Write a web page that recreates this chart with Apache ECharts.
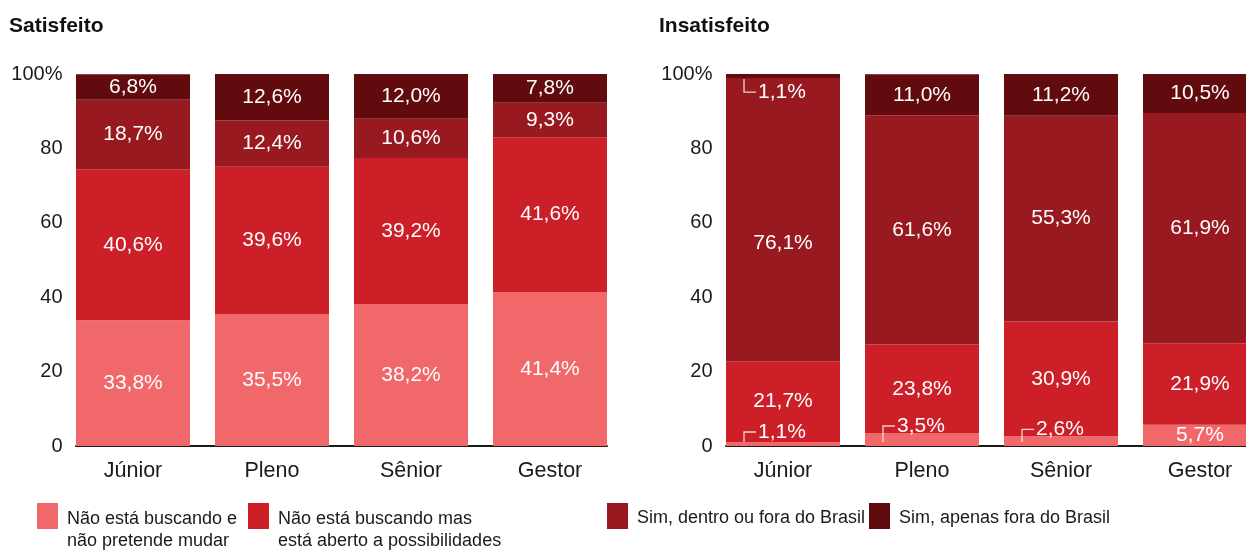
<!DOCTYPE html>
<html lang="pt">
<head>
<meta charset="UTF-8">
<title>Satisfeito x Insatisfeito</title>
<script src="https://cdn.jsdelivr.net/npm/echarts@6/dist/echarts.min.js"></script>
<style>
  html, body { margin: 0; padding: 0; background: #fff; }
  #main { width: 1246px; height: 554px; }
</style>
</head>
<body>
<div id="main"></div>
<script type="text/javascript">
// categorias e ticks
var categorias = ['Júnior', 'Pleno', 'Sênior', 'Gestor'];
var ticksY = [0, 20, 40, 60, 80, 100];

// nomes das séries (legenda)
var nomes = [
    'Não está buscando e não pretende mudar',
    'Não está buscando mas está aberto a possibilidades',
    'Sim, dentro ou fora do Brasil',
    'Sim, apenas fora do Brasil'
];

// Satisfeito
var satNaoBusca = [33.8, 35.5, 38.2, 41.4];
var satAberto   = [40.6, 39.6, 39.2, 41.6];
var satDentro   = [18.7, 12.4, 10.6, 9.3];
var satFora     = [6.8, 12.6, 12.0, 7.8];

// Insatisfeito
var insNaoBusca = [1.1, 3.5, 2.6, 5.7];
var insAberto   = [21.7, 23.8, 30.9, 21.9];
var insDentro   = [76.1, 61.6, 55.3, 61.9];
var insFora     = [1.1, 11.0, 11.2, 10.5];

var cores = ['#F1686B', '#CC1F27', '#981A20', '#610B0E'];
var fonte = '"Liberation Sans", Arial, sans-serif';
var PEQUENO = 4; // abaixo disso o rótulo vai para fora do segmento

function fmt(v) {
    return v.toFixed(1).replace('.', ',') + '%';
}

var myChart = echarts.init(document.getElementById('main'));

function serieBarra(nome, dados, cor, eixo, pilha, esconderPequenos) {
    return {
        name: nome,
        type: 'bar',
        stack: pilha,
        xAxisIndex: eixo,
        yAxisIndex: eixo,
        barWidth: 114,
        data: dados,
        itemStyle: { color: cor },
        label: {
            show: true,
            position: 'inside',
            color: '#fff',
            fontFamily: fonte,
            fontSize: 21,
            formatter: function (p) {
                if (esconderPequenos && p.value < PEQUENO) return '';
                return fmt(p.value);
            }
        },
        emphasis: { disabled: true }
    };
}

// rótulos com "colchete" para segmentos muito finos (gráfico Insatisfeito)
var pequenos = [];
for (var i = 0; i < categorias.length; i++) {
    if (insNaoBusca[i] < PEQUENO) {
        pequenos.push([i, 0, insNaoBusca[i], 1]);
    }
    if (insFora[i] < PEQUENO) {
        var base = insNaoBusca[i] + insAberto[i] + insDentro[i];
        pequenos.push([i, base, insFora[i], -1]);
    }
}

function desenhaPequeno(params, api) {
    var cat = api.value(0);
    var base = api.value(1);
    var valor = api.value(2);
    var dir = api.value(3);
    var pBase = api.coord([cat, base]);
    var pTopo = api.coord([cat, base + valor]);
    var x = pBase[0] - 57 + 18;
    var y1, y2;
    if (dir > 0) {
        y1 = pBase[1] - 4;
        y2 = Math.min(pTopo[1] - 7, y1 - 10);
    } else {
        y1 = pBase[1] + 1;
        y2 = pBase[1] + 14;
    }
    var cor = 'rgba(255,255,255,0.8)';
    return {
        type: 'group',
        children: [
            {
                type: 'polyline',
                shape: { points: [[x, y1], [x, y2], [x + 12, y2]] },
                style: { stroke: cor, lineWidth: 1.3, fill: null }
            },
            {
                type: 'text',
                x: x + 14,
                y: y2,
                style: {
                    text: fmt(valor),
                    fill: '#fff',
                    font: '21px ' + fonte,
                    verticalAlign: 'middle',
                    align: 'left'
                }
            }
        ]
    };
}

var eixoYBase = {
    type: 'value',
    min: 0,
    max: 100,
    interval: 20,
    axisLine: { show: false },
    axisTick: { show: false },
    splitLine: { show: false },
    axisLabel: {
        margin: 1,
        color: '#1a1a1a',
        fontFamily: fonte,
        fontSize: 20,
        padding: [0, 0, 12, 0],
        formatter: function (v) { return v === 100 ? '100%' : String(v); }
    }
};

var eixoXBase = {
    type: 'category',
    data: categorias,
    axisLine: { show: false },
    axisTick: { show: false },
    axisLabel: {
        margin: 14,
        color: '#1a1a1a',
        fontFamily: fonte,
        fontSize: 21.5
    }
};

// linhas de base (só sob as barras)
var eixoLinha = {
    type: 'value',
    min: 0,
    max: 1,
    axisLine: { show: true, lineStyle: { color: '#1a1a1a', width: 2 } },
    axisTick: { show: false },
    axisLabel: { show: false },
    splitLine: { show: false }
};
var eixoLinhaY = {
    type: 'value', min: 0, max: 1, show: false
};

var legendaPos = [37, 248, 607, 869];
var legendaLinhas = {};
legendaLinhas[nomes[0]] = ['Não está buscando e', 'não pretende mudar'];
legendaLinhas[nomes[1]] = ['Não está buscando mas', 'está aberto a possibilidades'];
legendaLinhas[nomes[2]] = [nomes[2]];
legendaLinhas[nomes[3]] = [nomes[3]];

var legendas = [];
for (var k = 0; k < nomes.length; k++) {
    var duasLinhas = legendaLinhas[nomes[k]].length > 1;
    legendas.push({
        data: [nomes[k]],
        left: legendaPos[k],
        top: duasLinhas ? 485 : 503,
        padding: 0,
        icon: 'rect',
        itemWidth: 21,
        itemHeight: 26,
        selectedMode: false,
        formatter: function (n) {
            var l = legendaLinhas[n];
            if (l.length === 1) return '{u|' + l[0] + '}';
            return '{e| }\n{t|' + l[0] + '}\n{t|' + l[1] + '}';
        },
        textStyle: {
            color: '#1a1a1a',
            fontFamily: fonte,
            fontSize: 18,
            rich: {
                e: { lineHeight: 28, fontSize: 18, padding: [0, 0, 0, 4] },
                t: { lineHeight: 22, fontSize: 18, fontFamily: fonte, color: '#1a1a1a', padding: [0, 0, 0, 4] },
                u: { lineHeight: 22, fontSize: 18, fontFamily: fonte, color: '#1a1a1a', padding: [4, 0, 0, 4] }
            }
        }
    });
}

var option = {
    animation: false,
    backgroundColor: '#fff',
    title: [
        {
            text: 'Satisfeito', left: 9, top: 16, padding: 0,
            textStyle: { fontFamily: fonte, fontSize: 21, fontWeight: 'bold', color: '#111' }
        },
        {
            text: 'Insatisfeito', left: 659, top: 16, padding: 0,
            textStyle: { fontFamily: fonte, fontSize: 21, fontWeight: 'bold', color: '#111' }
        }
    ],
    legend: legendas,
    grid: [
        { left: 63.5, top: 74, width: 556, height: 372, outerBoundsMode: 'none' },
        { left: 713.5, top: 74, width: 556, height: 372, outerBoundsMode: 'none' },
        { left: 76, top: 74, width: 531, height: 372, outerBoundsMode: 'none' },
        { left: 726, top: 74, width: 531, height: 372, outerBoundsMode: 'none' }
    ],
    xAxis: [
        Object.assign({ gridIndex: 0 }, eixoXBase),
        Object.assign({ gridIndex: 1 }, eixoXBase),
        Object.assign({ gridIndex: 2 }, eixoLinha),
        Object.assign({ gridIndex: 3 }, eixoLinha)
    ],
    yAxis: [
        Object.assign({ gridIndex: 0 }, eixoYBase),
        Object.assign({ gridIndex: 1 }, eixoYBase),
        Object.assign({ gridIndex: 2 }, eixoLinhaY),
        Object.assign({ gridIndex: 3 }, eixoLinhaY)
    ],
    series: [
        serieBarra(nomes[0], satNaoBusca, cores[0], 0, 'sat', false),
        serieBarra(nomes[1], satAberto, cores[1], 0, 'sat', false),
        serieBarra(nomes[2], satDentro, cores[2], 0, 'sat', false),
        serieBarra(nomes[3], satFora, cores[3], 0, 'sat', false),
        serieBarra(nomes[0], insNaoBusca, cores[0], 1, 'ins', true),
        serieBarra(nomes[1], insAberto, cores[1], 1, 'ins', true),
        serieBarra(nomes[2], insDentro.map(function (v, i) {
            // rótulo do Júnior fica um pouco abaixo do centro no original
            return i === 0 ? { value: v, label: { offset: [0, 24] } } : v;
        }), cores[2], 1, 'ins', true),
        serieBarra(nomes[3], insFora, cores[3], 1, 'ins', true),
        {
            type: 'custom',
            xAxisIndex: 1,
            yAxisIndex: 1,
            data: pequenos,
            renderItem: desenhaPequeno,
            silent: true,
            z: 10
        }
    ]
};

myChart.setOption(option);
</script>
</body>
</html>
